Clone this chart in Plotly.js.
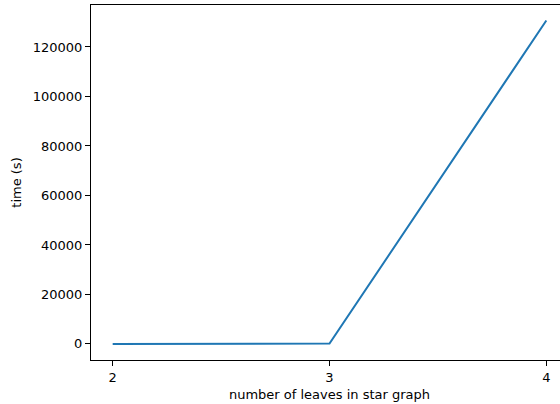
<!DOCTYPE html>
<html>
<head>
<meta charset="utf-8">
<script src="https://cdn.plot.ly/plotly-3.0.1.min.js"></script>
<style>
html,body{margin:0;padding:0;overflow:hidden;background:#fff;width:560px;height:404px;}
#chart{width:580px;height:404px;}
</style>
</head>
<body>
<div id="chart"></div>
<script>
const leaves = [2, 3, 4];
const times = [5, 150, 130700];
const xTicks = [2, 3, 4];
const yTicks = [0, 20000, 40000, 60000, 80000, 100000, 120000];

const axisCommon = {
  showgrid: false,
  zeroline: false,
  showline: true,
  mirror: true,
  linecolor: '#000',
  linewidth: 1,
  ticks: 'outside',
  ticklen: 5,
  tickwidth: 1,
  tickcolor: '#000',
  tickfont: {family: 'DejaVu Sans', size: 13, color: '#000'}
};

Plotly.newPlot('chart', [{
  x: leaves,
  y: times,
  type: 'scatter',
  mode: 'lines',
  line: {color: '#1f77b4', width: 2},
  hoverinfo: 'skip'
}], {
  width: 580,
  height: 404,
  margin: {l: 91, r: 12, t: 5, b: 44},
  paper_bgcolor: '#fff',
  plot_bgcolor: '#fff',
  showlegend: false,
  xaxis: Object.assign({}, axisCommon, {
    range: [1.9, 4.1],
    tickvals: xTicks,
    ticktext: xTicks.map(String),
    title: {text: 'number of leaves in star graph', font: {family: 'DejaVu Sans', size: 13, color: '#000'}, standoff: 6}
  }),
  yaxis: Object.assign({}, axisCommon, {
    range: [-6500, 136970],
    tickvals: yTicks,
    ticktext: yTicks.map(String),
    title: {text: 'time (s)', font: {family: 'DejaVu Sans', size: 13, color: '#000'}, standoff: 8}
  })
}, {staticPlot: true, displayModeBar: false});
</script>
</body>
</html>
